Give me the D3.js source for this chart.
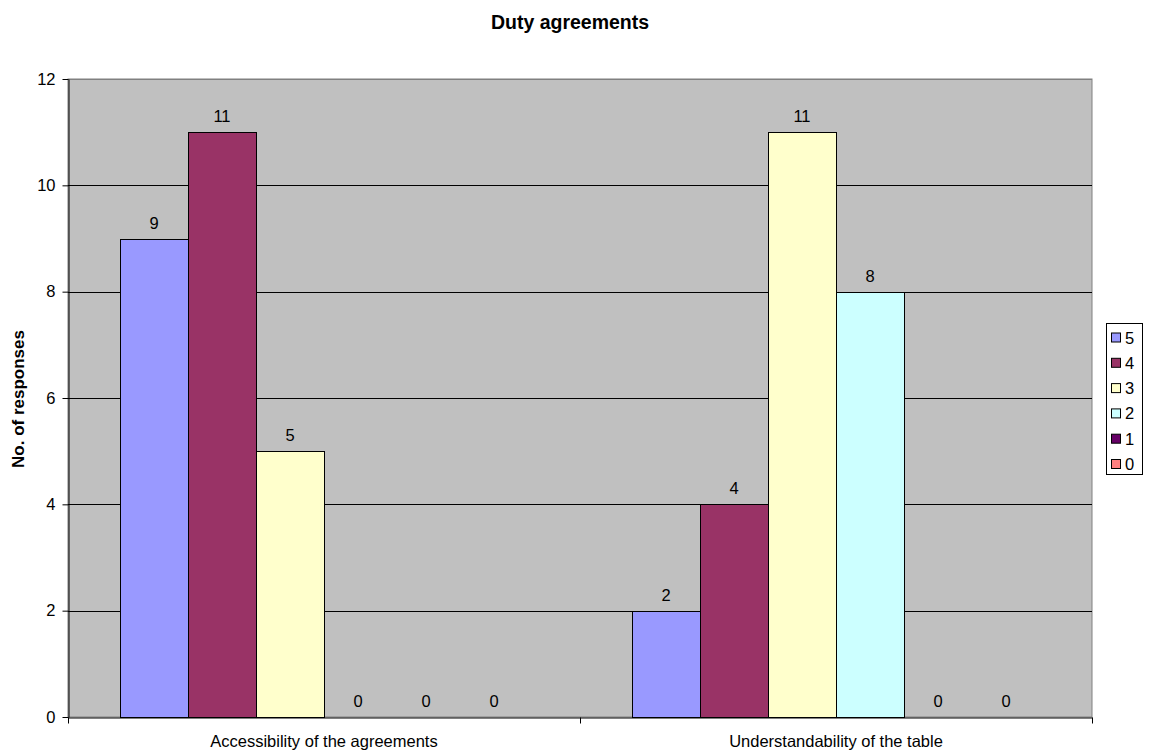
<!DOCTYPE html>
<html>
<head>
<meta charset="utf-8">
<script src="https://cdn.jsdelivr.net/npm/d3@7"></script>
<style>
  body { margin: 0; background: #fff; }
  svg { font-family: "Liberation Sans", Arial, sans-serif; }
</style>
</head>
<body>
<div id="chart"></div>
<script>
const width = 1149;
const height = 753;

const categories = ["Accessibility of the agreements", "Understandability of the table"];
const seriesNames = ["5", "4", "3", "2", "1", "0"];
const seriesColors = ["#9999FF", "#993366", "#FFFFCC", "#CCFFFF", "#660066", "#FF8080"];
const values = [
    [9, 11, 5, 0, 0, 0],
    [2, 4, 11, 8, 0, 0]
];
const yTicks = [0, 2, 4, 6, 8, 10, 12];

const margin = { left: 68, top: 79, right: 1092, bottom: 717 };

const svg = d3.select("#chart")
    .append("svg")
    .attr("width", width)
    .attr("height", height);

const x0 = d3.scaleBand()
    .domain(categories)
    .range([margin.left, margin.right])
    .paddingInner(0)
    .paddingOuter(0);

const x1 = d3.scaleBand()
    .domain(seriesNames)
    .range([52, x0.bandwidth() - 52]);

const y = d3.scaleLinear()
    .domain([0, 12])
    .range([margin.bottom, margin.top]);

// plot background
svg.append("rect")
    .attr("x", margin.left)
    .attr("y", margin.top)
    .attr("width", margin.right - margin.left)
    .attr("height", margin.bottom - margin.top)
    .attr("fill", "#C0C0C0")
    .attr("stroke", "#808080")
    .attr("stroke-width", 1);

// gridlines
svg.selectAll(".grid")
    .data(yTicks.filter(d => d > 0))
    .enter()
    .append("line")
    .attr("x1", margin.left)
    .attr("x2", margin.right)
    .attr("y1", d => Math.round(y(d)) + 0.5)
    .attr("y2", d => Math.round(y(d)) + 0.5)
    .attr("stroke", d => d === 12 ? "#808080" : "#000")
    .attr("stroke-width", 1);

// bars
const groups = svg.selectAll(".group")
    .data(categories)
    .enter()
    .append("g")
    .attr("transform", d => `translate(${x0(d)},0)`);

groups.each(function(cat, ci) {
    const g = d3.select(this);
    const rows = seriesNames.map((s, si) => ({ s, si, v: values[ci][si] }));
    g.selectAll("rect")
        .data(rows.filter(r => r.v > 0))
        .enter()
        .append("rect")
        .attr("x", r => x1(r.s) + 0.5)
        .attr("y", r => Math.round(y(r.v)) + 0.5)
        .attr("width", x1.bandwidth())
        .attr("height", r => Math.round(y(0)) - Math.round(y(r.v)))
        .attr("fill", r => seriesColors[r.si])
        .attr("stroke", "#000")
        .attr("stroke-width", 1);
    g.selectAll("text")
        .data(rows)
        .enter()
        .append("text")
        .attr("x", r => x1(r.s) + x1.bandwidth() / 2)
        .attr("y", r => y(r.v) - 10)
        .attr("text-anchor", "middle")
        .attr("font-size", 16.5)
        .text(r => r.v);
});

// y axis
const yAxis = svg.append("g")
    .attr("transform", `translate(${margin.left + 0.5},0)`)
    .call(d3.axisLeft(y).tickValues(yTicks).tickSize(6).tickPadding(7).tickSizeOuter(0));
yAxis.select(".domain").attr("stroke", "#000");
yAxis.selectAll("text").attr("font-size", 16.5).attr("fill", "#000").style("font-family", "Liberation Sans, Arial, sans-serif");
yAxis.selectAll("line").attr("stroke", "#000");

// x axis
const xAxis = svg.append("g")
    .attr("transform", `translate(0,${margin.bottom + 0.5})`)
    .call(d3.axisBottom(d3.scaleLinear().domain([0, 2]).range([margin.left, margin.right]))
        .tickValues([0, 1, 2]).tickSize(6).tickFormat("").tickSizeOuter(0));
xAxis.select(".domain").attr("stroke", "#000");
xAxis.selectAll("line").attr("stroke", "#000");

svg.selectAll(".catlabel")
    .data(categories)
    .enter()
    .append("text")
    .attr("x", d => x0(d) + x0.bandwidth() / 2)
    .attr("y", 747)
    .attr("text-anchor", "middle")
    .attr("font-size", 16.5)
    .text(d => d);

// title
svg.append("text")
    .attr("x", 570)
    .attr("y", 29)
    .attr("text-anchor", "middle")
    .attr("font-size", 19.5)
    .attr("font-weight", "bold")
    .text("Duty agreements");

// y label
svg.append("text")
    .attr("transform", "translate(24,399) rotate(-90)")
    .attr("text-anchor", "middle")
    .attr("font-size", 17)
    .attr("font-weight", "bold")
    .text("No. of responses");

// legend
const legend = svg.append("g").attr("transform", "translate(1106,323)");
legend.append("rect")
    .attr("x", 0.5).attr("y", 0.5)
    .attr("width", 36).attr("height", 151)
    .attr("fill", "#fff")
    .attr("stroke", "#000");
const items = legend.selectAll(".item")
    .data(seriesNames)
    .enter()
    .append("g")
    .attr("transform", (d, i) => `translate(0,${14.5 + i * 25.3})`);
items.append("rect")
    .attr("x", 5.5).attr("y", -4.5)
    .attr("width", 9).attr("height", 9)
    .attr("fill", (d, i) => seriesColors[i])
    .attr("stroke", "#000");
items.append("text")
    .attr("x", 19)
    .attr("y", 6)
    .attr("font-size", 16.5)
    .text(d => d);
</script>
</body>
</html>
